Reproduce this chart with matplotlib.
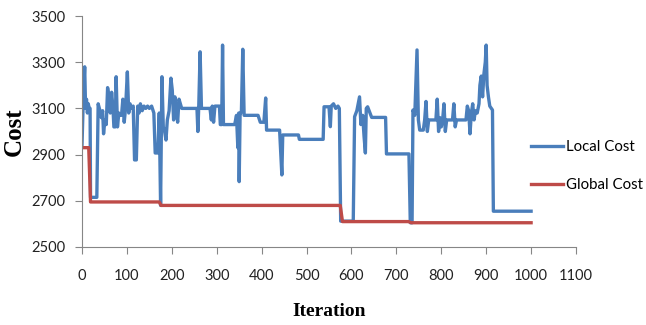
import matplotlib
matplotlib.use("Agg")
import matplotlib.pyplot as plt
from matplotlib import font_manager

# local cost (iteration, cost)
local_iter = [0, 3, 6, 8, 10, 12, 14, 16, 18, 19, 33, 36, 40, 43, 46, 48, 51, 54, 57, 60,
              63, 66, 69, 71, 74, 76, 79, 82, 85, 88, 91, 94, 97, 101, 104, 107, 110, 114,
              117, 121, 124, 127, 130, 134, 138, 142, 146, 150, 155, 160, 163, 169, 172,
              175, 178, 181, 184, 187, 190, 194, 198, 201, 204, 207, 210, 213, 216, 219,
              222, 256, 258, 260, 263, 266, 285, 288, 290, 293, 296, 306, 308, 311, 313,
              315, 340, 344, 347, 349, 350, 352, 355, 358, 361, 392, 397, 405, 409, 411,
              440, 445, 447, 482, 484, 537, 539, 550, 553, 555, 560, 565, 570, 573, 576,
              604, 607, 612, 618, 621, 625, 628, 631, 633, 636, 645, 676, 678, 728, 731,
              735, 737, 741, 746, 749, 752, 760, 763, 766, 769, 772, 788, 791, 794, 797,
              800, 803, 806, 809, 812, 825, 828, 831, 834, 855, 858, 861, 864, 867, 870,
              873, 876, 880, 884, 886, 889, 892, 895, 898, 900, 902, 905, 908, 914, 916,
              1000]
local_cost = [2940, 3150, 3280, 3100, 3140, 3080, 3120, 3100, 3100, 2715, 2715, 3120, 3090,
              3060, 3090, 2990, 3050, 3030, 3190, 3150, 3080, 3170, 3100, 3020, 3020, 3237,
              3020, 3080, 3070, 3070, 3140, 3040, 3100, 3258, 3080, 3120, 3100, 3110, 2877,
              2877, 3110, 3080, 3120, 3090, 3110, 3100, 3110, 3100, 3110, 3080, 2907, 2907,
              3080, 2680, 3237, 3020, 3000, 2963, 3050, 3090, 3231, 3180, 3050, 3150, 3090,
              3040, 3140, 3120, 3100, 3100, 3000, 3110, 3345, 3100, 3100, 3050, 3110, 3040,
              3110, 3110, 3030, 3030, 3374, 3030, 3030, 3070, 2930, 3080, 2783, 3070, 3090,
              3356, 3070, 3070, 3040, 3040, 3145, 3006, 3006, 2812, 2985, 2985, 2966, 2966,
              3107, 3107, 3021, 3110, 3120, 3100, 3110, 3100, 2612, 2612, 3064, 3090, 3150,
              3030, 3070, 2980, 2907, 3100, 3107, 3061, 3061, 2903, 2903, 2605, 2605, 3093,
              3070, 3353, 3050, 3006, 3006, 3050, 3130, 3000, 3050, 3050, 3140, 3000, 3060,
              3020, 3050, 3120, 3000, 3050, 3050, 3120, 3020, 3050, 3050, 3110, 3090, 2990,
              3080, 3120, 3050, 3090, 3080, 3120, 3200, 3240, 3150, 3250, 3300, 3374, 3200,
              3150, 3110, 3093, 2655, 2655]

global_iter = [0, 15, 19, 172, 176, 575, 580, 727, 733, 1000]
global_cost = [2930, 2930, 2695, 2695, 2680, 2680, 2610, 2610, 2605, 2605]

x_ticks = list(range(0, 1101, 100))
y_ticks = list(range(2500, 3501, 200))

blue = "#4A7EBB"
red = "#BE4B48"
grey = "#868686"

# narrow sans if present (closer to the squeezed Calibri look), else Lato
try:
    font_manager.findfont("Liberation Sans Narrow", fallback_to_default=False)
    sans, sans_size = "Liberation Sans Narrow", 12
except Exception:
    sans, sans_size = "Lato", 10.5

fig = plt.figure(figsize=(6.46, 3.25), dpi=100)
ax = fig.add_axes([82 / 646, 78 / 325, 494 / 646, 231 / 325])

ax.plot(local_iter, local_cost, color=blue, lw=2.4, label="Local Cost", solid_joinstyle="round")
ax.plot(global_iter, global_cost, color=red, lw=2.4, label="Global Cost")

ax.set_xlim(0, 1100)
ax.set_ylim(2500, 3500)
ax.set_xticks(x_ticks)
ax.set_yticks(y_ticks)

for s in ["top", "right"]:
    ax.spines[s].set_visible(False)
for s in ["left", "bottom"]:
    ax.spines[s].set_color(grey)
    ax.spines[s].set_linewidth(0.8)

ax.tick_params(axis="x", direction="out", length=5, width=0.8, color=grey, pad=11,
               labelsize=sans_size, labelcolor="#222222")
ax.tick_params(axis="y", direction="out", length=5, width=0.8, color=grey, pad=7,
               labelsize=sans_size, labelcolor="#222222")
for lab in ax.get_xticklabels() + ax.get_yticklabels():
    lab.set_family(sans)

ax.set_xlabel("Iteration", family="Liberation Serif", weight="bold", fontsize=14, labelpad=14)
ax.set_ylabel("Cost", family="Liberation Serif", weight="bold", fontsize=18, labelpad=4)

leg = ax.legend(loc="center left", bbox_to_anchor=(531 / 646, 1 - 166 / 325),
                bbox_transform=fig.transFigure, frameon=False,
                prop={"family": sans, "size": sans_size + 0.3}, handlelength=2.1,
                handletextpad=0.2, labelspacing=1.6, borderpad=0, borderaxespad=0)

fig.savefig("out.png", dpi=100)
